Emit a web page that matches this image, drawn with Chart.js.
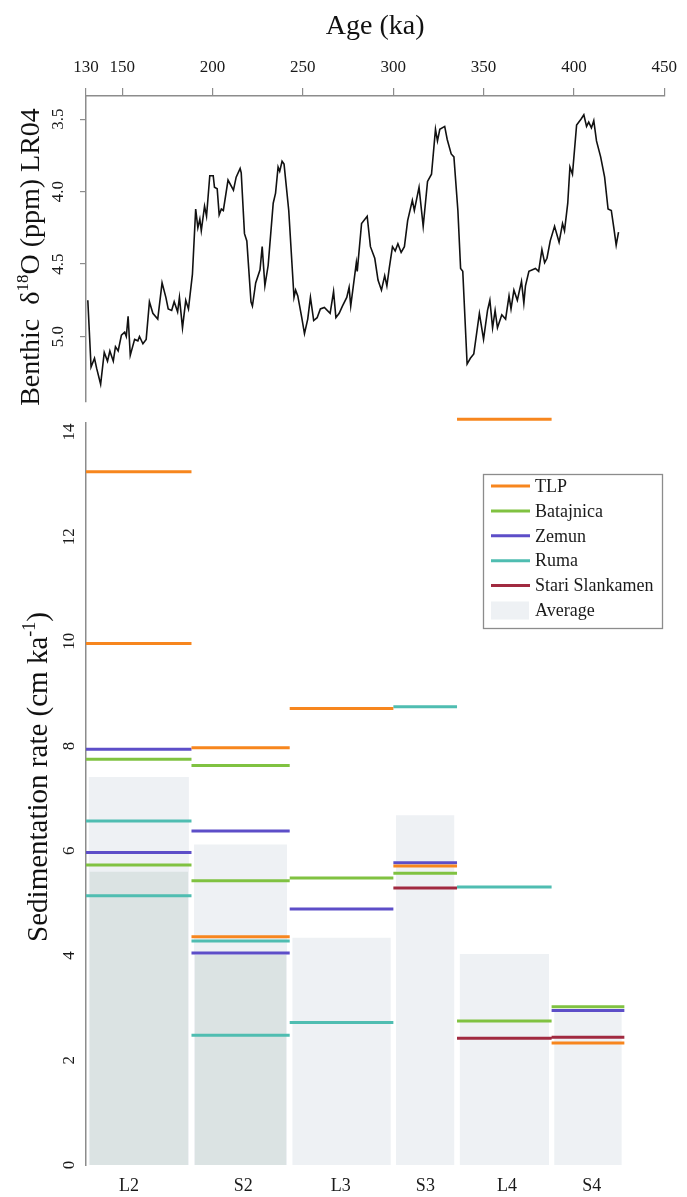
<!DOCTYPE html>
<html>
<head>
<meta charset="utf-8">
<script src="https://cdn.jsdelivr.net/npm/chart.js@4.4.1/dist/chart.umd.min.js"></script>
<style>
  html, body { margin: 0; padding: 0; background: #ffffff; }
  #wrap { position: relative; width: 687px; height: 1197px; overflow: hidden; }
  #isotopeChart { position: absolute; left: 0; top: 0; }
  #rateChart { position: absolute; left: 0; top: 410px; }
</style>
</head>
<body>
<div id="wrap">
  <canvas id="isotopeChart" width="687" height="410"></canvas>
  <canvas id="rateChart" width="687" height="787"></canvas>
</div>
<script>
// ---------- LR04 benthic stack, 130–425 ka ----------
const ageTicks = [130, 150, 200, 250, 300, 350, 400, 450];
const d18oTicks = [3.5, 4.0, 4.5, 5.0];

const lr04Age = [
  131.0, 132.8, 134.7, 135.9, 138.1, 140.1, 141.9, 143.2, 145.1, 146.3,
  147.8, 149.6, 151.4, 152.3, 153.3, 154.5, 156.9, 158.7, 159.6, 161.5,
  163.3, 165.1, 167.0, 169.7, 172.1, 174.2, 175.5, 177.4, 178.8, 180.7,
  181.7, 183.4, 185.2, 186.7, 188.9, 190.7, 191.9, 193.0, 193.8, 195.6,
  196.7, 198.5, 200.4, 201.1, 202.6, 203.7, 204.9, 206.0, 208.6, 211.6,
  213.1, 215.3, 215.9, 217.7, 219.0, 221.3, 222.1, 223.9, 226.3, 227.5,
  229.0, 230.8, 233.6, 234.9, 236.3, 237.2, 238.5, 239.6, 242.2, 245.1,
  246.0, 247.2, 249.4, 250.9, 252.7, 254.2, 256.0, 257.9, 259.7, 261.9,
  265.1, 267.0, 268.3, 270.1, 271.9, 274.3, 275.6, 276.5, 279.6, 280.1,
  282.5, 285.6, 287.4, 289.8, 291.6, 293.5, 295.3, 296.5, 297.8, 299.6,
  301.1, 302.6, 304.4, 306.2, 308.0, 310.6, 311.7, 313.0, 314.3, 316.6,
  319.0, 321.2, 323.4, 324.5, 325.8, 328.5, 329.9, 332.1, 333.6, 335.8,
  337.3, 338.5, 340.9, 342.7, 344.6, 347.7, 350.0, 352.2, 353.5, 355.0,
  356.4, 357.7, 360.1, 362.2, 364.1, 365.2, 366.8, 368.7, 371.0, 372.3,
  373.2, 375.1, 378.7, 380.5, 382.3, 383.8, 385.1, 386.9, 389.3, 391.8,
  393.7, 394.8, 396.6, 397.8, 399.2, 401.5, 403.9, 405.5, 407.0, 408.2,
  409.7, 411.0, 412.5, 414.8, 417.0, 418.9, 420.7, 422.1, 423.4, 424.7
];
const lr04D18O = [
  4.75, 5.21, 5.15, 5.22, 5.33, 5.11, 5.17, 5.10, 5.17, 5.07,
  5.10, 4.99, 4.97, 5.00, 4.86, 5.13, 5.02, 5.03, 5.00, 5.05,
  5.02, 4.76, 4.84, 4.88, 4.63, 4.73, 4.81, 4.82, 4.76, 4.83,
  4.73, 4.94, 4.75, 4.81, 4.57, 4.12, 4.25, 4.19, 4.27, 4.10,
  4.17, 3.89, 3.89, 3.97, 3.98, 4.16, 4.12, 4.13, 3.92, 3.99,
  3.90, 3.84, 3.87, 4.29, 4.34, 4.76, 4.79, 4.63, 4.54, 4.38,
  4.65, 4.51, 4.08, 4.01, 3.83, 3.86, 3.79, 3.81, 4.13, 4.73,
  4.68, 4.72, 4.87, 4.98, 4.88, 4.73, 4.89, 4.87, 4.81, 4.80,
  4.84, 4.69, 4.87, 4.84, 4.79, 4.73, 4.66, 4.79, 4.49, 4.55,
  4.22, 4.17, 4.38, 4.46, 4.61, 4.68, 4.58, 4.65, 4.53, 4.38,
  4.41, 4.36, 4.42, 4.38, 4.20, 4.06, 4.13, 4.05, 3.97, 4.24,
  3.93, 3.88, 3.57, 3.65, 3.57, 3.55, 3.64, 3.74, 3.76, 4.13,
  4.53, 4.55, 5.19, 5.15, 5.12, 4.84, 5.02, 4.82, 4.75, 4.94,
  4.82, 4.94, 4.85, 4.88, 4.72, 4.81, 4.68, 4.75, 4.62, 4.77,
  4.65, 4.55, 4.53, 4.55, 4.40, 4.49, 4.46, 4.34, 4.24, 4.35,
  4.22, 4.27, 4.08, 3.83, 3.88, 3.54, 3.50, 3.47, 3.55, 3.52,
  3.56, 3.51, 3.65, 3.76, 3.90, 4.12, 4.13, 4.25, 4.37, 4.28
];

// ---------- Loess / palaeosol units and sedimentation rates ----------
const periods = ['L2', 'S2', 'L3', 'S3', 'L4', 'S4'];
const periodBounds = [130, 188, 242, 299, 334, 386, 426];     // ka
const periodLabelAge = [153.7, 216.4, 270.1, 316.6, 361.5, 408.1];
const rateTicks = [0, 2, 4, 6, 8, 10, 12, 14];

// cm/ka, one list per unit (some units have two sub-unit rates)
const tlp            = [[13.24, 9.96], [7.97, 4.36], [8.72], [5.71], [14.24], [2.33]];
const batajnica      = [[7.75, 5.73],  [7.63, 5.43], [5.48], [5.57], [2.75],  [3.02]];
const zemun          = [[7.94, 5.97],  [6.38, 4.05], [4.89], [5.77], [],      [2.95]];
const ruma           = [[6.57, 5.14],  [4.28, 2.48], [2.72], [8.75], [5.31],  []];
const stariSlankamen = [[],            [],           [],     [5.29], [2.42],  [2.44]];

const averageRate = [7.41, 6.12, 4.34, 6.68, 4.03, 2.98];
const sharedRate  = [5.60, 4.01, null, null, null, null];

// ---------- helpers ----------
const SERIF = '"Liberation Serif", "Times New Roman", Times, serif';
Chart.defaults.font.family = SERIF;
Chart.defaults.color = '#1a1a1a';
const AXIS_GREY = '#8c8c8c';

function segmentPoints(valuesByUnit) {
  const pts = [];
  valuesByUnit.forEach((vals, i) => {
    vals.forEach(v => {
      pts.push({ x: periodBounds[i], y: v }, { x: periodBounds[i + 1], y: v }, { x: periodBounds[i + 1], y: null });
    });
  });
  return pts;
}

function barPoints(heights, inset) {
  const pts = [];
  heights.forEach((h, i) => {
    if (h == null) return;
    pts.push({ x: periodBounds[i] + inset, y: h }, { x: periodBounds[i + 1] - inset, y: h }, { x: periodBounds[i + 1], y: null });
  });
  return pts;
}

// rotated (bottom-to-top) tick labels for a vertical axis
function rotatedTickLabels(cfg) {
  return {
    id: 'rotatedTickLabels',
    afterDraw(chart) {
      const s = chart.scales.y, ctx = chart.ctx;
      ctx.save();
      ctx.font = cfg.size + 'px ' + SERIF;
      ctx.fillStyle = '#1a1a1a';
      ctx.textAlign = 'center';
      ctx.textBaseline = 'middle';
      s.ticks.forEach(t => {
        const y = s.getPixelForValue(t.value);
        ctx.save();
        ctx.translate(cfg.x, y);
        ctx.rotate(-Math.PI / 2);
        ctx.fillText(t.value.toFixed(cfg.decimals), 0, 0);
        ctx.restore();
      });
      ctx.restore();
    }
  };
}

// vertical axis title with superscript parts
function verticalTitle(cfg) {
  return {
    id: 'verticalTitle',
    afterDraw(chart) {
      const ctx = chart.ctx;
      const big = cfg.size + 'px ' + SERIF;
      const small = Math.round(cfg.size * 0.62) + 'px ' + SERIF;
      ctx.save();
      let total = 0;
      const widths = cfg.parts.map(p => {
        ctx.font = p.sup ? small : big;
        const w = ctx.measureText(p.text).width;
        total += w;
        return w;
      });
      const cy = chart.chartArea.top + cfg.centerOffset;
      ctx.translate(cfg.x, cy);
      ctx.rotate(-Math.PI / 2);
      ctx.fillStyle = '#111';
      ctx.textAlign = 'left';
      ctx.textBaseline = 'alphabetic';
      let x = -total / 2;
      cfg.parts.forEach((p, i) => {
        ctx.font = p.sup ? small : big;
        ctx.fillText(p.text, x, p.sup ? -cfg.size * 0.38 : 0);
        x += widths[i];
      });
      ctx.restore();
    }
  };
}

// boxed legend inside the plot area
const boxLegend = {
  id: 'boxLegend',
  afterDraw(chart) {
    const { ctx, chartArea } = chart;
    const left = chartArea.right - 185, top = chartArea.top + 51, w = 179, h = 154;
    ctx.save();
    ctx.fillStyle = '#ffffff';
    ctx.fillRect(left, top, w, h);
    ctx.strokeStyle = AXIS_GREY;
    ctx.lineWidth = 1.3;
    ctx.strokeRect(left + 0.5, top + 0.5, w, h);
    ctx.font = '18px ' + SERIF;
    ctx.textBaseline = 'middle';
    const items = chart.data.datasets.filter(d => d.inLegend);
    items.forEach((d, i) => {
      const y = top + 12 + i * 24.9;
      if (d.fill) {
        ctx.fillStyle = d.backgroundColor;
        ctx.fillRect(left + 8, y - 9, 38, 18);
      } else {
        ctx.strokeStyle = d.borderColor;
        ctx.lineWidth = 3;
        ctx.beginPath();
        ctx.moveTo(left + 8, y);
        ctx.lineTo(left + 47, y);
        ctx.stroke();
      }
      ctx.fillStyle = '#1a1a1a';
      ctx.fillText(d.label, left + 52, y + 1);
    });
    ctx.restore();
  }
};

// ---------- upper panel: δ18O ----------
new Chart(document.getElementById('isotopeChart'), {
  type: 'line',
  data: {
    datasets: [{
      label: 'LR04',
      data: lr04Age.map((a, i) => ({ x: a, y: lr04D18O[i] })),
      borderColor: '#111111',
      borderWidth: 1.6,
      pointRadius: 0,
      tension: 0,
      fill: false
    }]
  },
  options: {
    responsive: false,
    animation: false,
    events: [],
    layout: { padding: { left: 0, right: 19, top: 0, bottom: 8.3 } },
    plugins: { legend: { display: false }, tooltip: { enabled: false } },
    scales: {
      x: {
        type: 'linear', position: 'top', min: 130, max: 450,
        afterBuildTicks: s => { s.ticks = ageTicks.map(v => ({ value: v })); },
        afterFit: s => { s.height = 96; },
        ticks: { autoSkip: false, maxRotation: 0, padding: 10, font: { size: 17 }, color: '#1a1a1a' },
        grid: { drawOnChartArea: false, drawTicks: true, tickLength: 8, color: AXIS_GREY, lineWidth: 1.2 },
        border: { display: true, color: AXIS_GREY, width: 1.5 },
        title: { display: true, text: 'Age (ka)', font: { size: 28 }, color: '#111', padding: { top: 10, bottom: 0 } }
      },
      y: {
        type: 'linear', reverse: true, min: 3.34, max: 5.45,
        afterBuildTicks: s => { s.ticks = d18oTicks.map(v => ({ value: v })); },
        afterFit: s => { s.width = 86; },
        ticks: { display: false },
        grid: { drawOnChartArea: false, drawTicks: true, tickLength: 6, color: AXIS_GREY, lineWidth: 1.2 },
        border: { display: true, color: AXIS_GREY, width: 1.5 }
      }
    }
  },
  plugins: [
    rotatedTickLabels({ x: 59, size: 17, decimals: 1 }),
    verticalTitle({
      x: 39, size: 28, centerOffset: 161,
      parts: [{ text: 'Benthic  \u03b4' }, { text: '18', sup: true }, { text: 'O (ppm) LR04' }]
    })
  ]
});

// ---------- lower panel: sedimentation rates ----------
const siteStyles = [
  { label: 'TLP', values: tlp, color: '#f7861e' },
  { label: 'Batajnica', values: batajnica, color: '#80c241' },
  { label: 'Zemun', values: zemun, color: '#5d4ec8' },
  { label: 'Ruma', values: ruma, color: '#4fbdb1' },
  { label: 'Stari Slankamen', values: stariSlankamen, color: '#a12a40' }
];

const rateDatasets = siteStyles.map(s => ({
  label: s.label,
  inLegend: true,
  data: segmentPoints(s.values),
  borderColor: s.color,
  backgroundColor: s.color,
  borderWidth: 3,
  pointRadius: 0,
  spanGaps: false,
  fill: false,
  clip: false,
  order: 1
}));

rateDatasets.push({
  label: 'Average',
  inLegend: true,
  data: barPoints(averageRate, 1.4),
  borderColor: 'rgba(0,0,0,0)',
  backgroundColor: '#eef1f4',
  borderWidth: 0,
  pointRadius: 0,
  spanGaps: false,
  fill: 'origin',
  order: 3
});
rateDatasets.push({
  label: 'Shared',
  inLegend: false,
  data: barPoints(sharedRate, 1.9),
  borderColor: 'rgba(0,0,0,0)',
  backgroundColor: '#dbe3e3',
  borderWidth: 0,
  pointRadius: 0,
  spanGaps: false,
  fill: 'origin',
  order: 2
});

new Chart(document.getElementById('rateChart'), {
  type: 'line',
  data: { datasets: rateDatasets },
  options: {
    responsive: false,
    animation: false,
    events: [],
    layout: { padding: { left: 0, right: 19, top: 13, bottom: 0 } },
    plugins: { legend: { display: false }, tooltip: { enabled: false } },
    scales: {
      x: {
        type: 'linear', min: 130, max: 450,
        afterBuildTicks: s => { s.ticks = periodLabelAge.map(v => ({ value: v })); },
        afterFit: s => { s.height = 32; },
        ticks: { autoSkip: false, maxRotation: 0, padding: 10, font: { size: 18 }, color: '#1a1a1a',
                 callback: (v, i) => periods[i] },
        grid: { display: false, drawTicks: false },
        border: { display: false }
      },
      y: {
        type: 'linear', min: 0, max: 14.17,
        afterBuildTicks: s => { s.ticks = rateTicks.map(v => ({ value: v })); },
        afterFit: s => { s.width = 86; },
        ticks: { display: false },
        grid: { drawOnChartArea: false, drawTicks: false },
        border: { display: true, color: AXIS_GREY, width: 1.5 }
      }
    }
  },
  plugins: [
    rotatedTickLabels({ x: 70, size: 17, decimals: 0 }),
    verticalTitle({
      x: 46.5, size: 29, centerOffset: 354,
      parts: [{ text: 'Sedimentation rate (cm ka' }, { text: '-1', sup: true }, { text: ')' }]
    }),
    boxLegend
  ]
});
</script>
</body>
</html>
